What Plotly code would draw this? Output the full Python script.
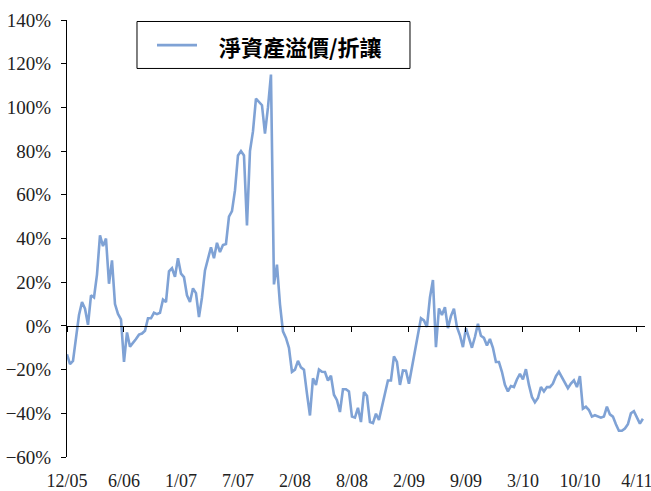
import plotly.graph_objects as go

# Premium / discount to NAV (%), roughly weekly sampling
premium = [
    -13, -17.5, -16, -4, 5, 10.9, 7.9, 0.5, 14, 13,
    23.5, 41.4, 36.5, 40, 19.3, 30, 10, 5.5, 3, -16.5,
    -3, -9.5, -8, -6, -4, -3.5, -2.2, 3.5, 3.5, 6,
    5.4, 6, 12, 10.9, 25, 26.4, 22.5, 31, 23.9, 22.3,
    14, 10.9, 17.2, 15, 4, 13, 25.4, 31, 36, 31,
    38, 33.8, 37, 37.5, 50, 52.5, 62, 78, 80, 78,
    46, 80, 89, 104, 102.5, 101, 88, 100, 115, 19,
    28, 10, -2.5, -5.5, -10, -21, -20, -16, -19, -20,
    -31, -41, -24, -27, -20, -21, -21.1, -25, -22.8, -31.5,
    -34, -39.4, -29, -29, -30, -41.5, -42, -37.5, -44, -30.3,
    -32, -44, -44.5, -40.2, -43, -36.5, -31, -25, -25, -14,
    -16.5, -27, -20.4, -20.5, -26.5, -18.5, -12, -3, 3.5, 2.5,
    -0.5, 13, 21, -9.7, 8, 5, 8.6, -1, 4.5, 7.9,
    -0.5, -4.3, -9.7, -1, -5.5, -10, -5.1, 1, -4.5, -5.5,
    -9, -6, -10, -16.5, -16.5, -21, -27, -30, -27.5, -28,
    -24.5, -22, -24.5, -19.8, -27, -32.5, -35, -33, -28, -30,
    -28, -28, -26.4, -23, -21, -23.5, -26, -28.5, -26.4, -24.9,
    -28, -23, -37.9, -37, -38.5, -41.5, -40.9, -41.5, -42, -41.5,
    -37, -40.5, -41.5, -45, -48, -48, -47, -45, -40, -39,
    -41.5, -44.7, -42.5,
]
tick_labels = ["12/05", "6/06", "1/07", "7/07", "2/08", "8/08",
               "2/09", "9/09", "3/10", "10/10", "4/11"]
tick_step = 19
series_name = "淨資產溢價/折讓"

x_idx = list(range(len(premium)))
tick_pos = [i * tick_step for i in range(len(tick_labels))]
x_range = [0, len(premium) - 0.3]

line_color = "#7FA2D5"
serif = "Liberation Serif, Times New Roman, serif"

fig = go.Figure()
fig.add_trace(go.Scatter(
    x=x_idx, y=[v / 100 for v in premium], mode="lines", name=series_name,
    line=dict(color=line_color, width=2.6), xaxis="x", yaxis="y",
    showlegend=False,
))
# invisible helper so the zero-line axis is drawn
fig.add_trace(go.Scatter(x=[0], y=[0], mode="lines", xaxis="x2", yaxis="y",
                         showlegend=False, hoverinfo="skip",
                         line=dict(width=0)))

# legend box drawn by hand (box, line sample, label)
fig.add_shape(type="rect", xref="paper", yref="paper",
              x0=0.1211, x1=0.5934, y0=0.8891, y1=0.9966,
              line=dict(color="black", width=1), fillcolor="white", layer="above")
fig.add_shape(type="line", xref="paper", yref="paper",
              x0=0.1557, x1=0.2249, y0=0.9426, y1=0.9426,
              line=dict(color=line_color, width=2.6), layer="above")
fig.add_annotation(xref="paper", yref="paper", x=0.2595, y=0.9395,
                   xanchor="left", yanchor="middle", showarrow=False,
                   text="<b>" + series_name + "</b>",
                   font=dict(family="Noto Sans CJK TC", size=22, color="black"))

fig.update_layout(
    width=651, height=491,
    margin=dict(l=67, r=6, t=19.5, b=34.3, autoexpand=False),
    paper_bgcolor="white", plot_bgcolor="white",
    showlegend=False,
    xaxis=dict(
        range=x_range, tickmode="array", tickvals=tick_pos, ticktext=tick_labels,
        showline=False, showgrid=False, zeroline=False, automargin=False,
        ticks="outside", ticklen=7, tickcolor="rgba(0,0,0,0)",
        ticklabeloverflow="allow",
        tickfont=dict(family=serif, size=18, color="#222"),
    ),
    xaxis2=dict(
        range=x_range, overlaying="x", anchor="free", position=0.3, side="bottom",
        tickmode="array", tickvals=tick_pos, showticklabels=False,
        showline=True, linecolor="black", linewidth=1, automargin=False,
        ticks="outside", ticklen=5, tickcolor="black", tickwidth=1,
        showgrid=False, zeroline=False,
    ),
    yaxis=dict(
        range=[-0.6, 1.4], tickmode="linear", tick0=-0.6, dtick=0.2,
        tickformat=".0%", showline=True, linecolor="black", linewidth=1,
        ticks="outside", ticklen=5, tickcolor="black", automargin=False,
        showgrid=False, zeroline=False, ticklabeloverflow="allow",
        ticklabelstandoff=6,
        tickfont=dict(family=serif, size=19, color="#222"),
    ),
)

fig.write_html("out.html", config={"displayModeBar": False},
               post_script="document.body.style.margin='0';")
